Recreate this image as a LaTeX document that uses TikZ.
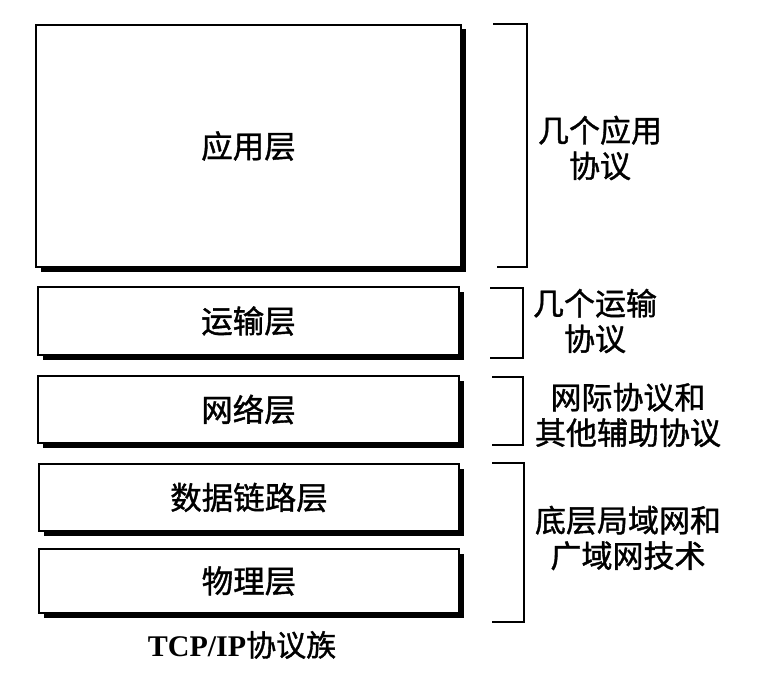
\documentclass[tikz,border=0pt]{standalone}
\usepackage{fontspec}
\setmainfont{Liberation Serif}
\newfontfamily\cjk[FakeBold=1.2]{Noto Sans CJK SC}
\usetikzlibrary{shadows}
\begin{document}
\begin{tikzpicture}[x=1pt,y=-1pt,
  layerbox/.style={draw=black, line width=2pt, fill=white, rectangle, inner sep=0pt,
    font=\cjk\fontsize{31.5}{36}\selectfont,
    drop shadow={shadow xshift=4.5pt, shadow yshift=-4.5pt, fill=black, opacity=1}},
  sidelabel/.style={align=center, inner sep=0pt, font=\cjk\fontsize{31}{35.5}\selectfont},
  bracketline/.style={draw=black, line width=1.4pt}]
\useasboundingbox (0,0) rectangle (760,674);
% layer boxes
\node[layerbox, minimum width=425pt, minimum height=242pt] (app) at (248.5,146) {\raisebox{-4pt}{应用层}};
\node[layerbox, minimum width=421pt, minimum height=68pt] (trans) at (248.5,321) {运输层};
\node[layerbox, minimum width=421pt, minimum height=67pt] (net) at (248.5,409.5) {网络层};
\node[layerbox, minimum width=420pt, minimum height=67pt] (link) at (249,497.5) {数据链路层};
\node[layerbox, minimum width=420pt, minimum height=64pt] (phys) at (249,581) {物理层};
% caption
\node[inner sep=0pt, font=\fontsize{30}{34}\selectfont] (cap) at (242,645) {\textbf{TCP/IP}{\cjk 协议族}};
% brackets
\coordinate (a1) at (493,24);  \coordinate (a2) at (527,24);
\coordinate (a3) at (527,267); \coordinate (a4) at (497,267);
\draw[bracketline] (a1) -- (a2) -- (a3) -- (a4);
\coordinate (t1) at (490,288); \coordinate (t2) at (523,288);
\coordinate (t3) at (523,358); \coordinate (t4) at (490,358);
\draw[bracketline] (t1) -- (t2) -- (t3) -- (t4);
\coordinate (n1) at (492,377); \coordinate (n2) at (523,377);
\coordinate (n3) at (523,445); \coordinate (n4) at (492,445);
\draw[bracketline] (n1) -- (n2) -- (n3) -- (n4);
\coordinate (l1) at (492,463); \coordinate (l2) at (524,463);
\coordinate (l3) at (524,622); \coordinate (l4) at (492,622);
\draw[bracketline] (l1) -- (l2) -- (l3) -- (l4);
% side labels
\node[sidelabel] (appl) at (600,148) {几个应用\\协议};
\node[sidelabel] (transl) at (595,321) {几个运输\\协议};
\node[sidelabel] (netl) at (628,415) {网际协议和\\其他辅助协议};
\node[sidelabel] (linkl) at (628,538) {底层局域网和\\广域网技术};
\end{tikzpicture}
\end{document}
